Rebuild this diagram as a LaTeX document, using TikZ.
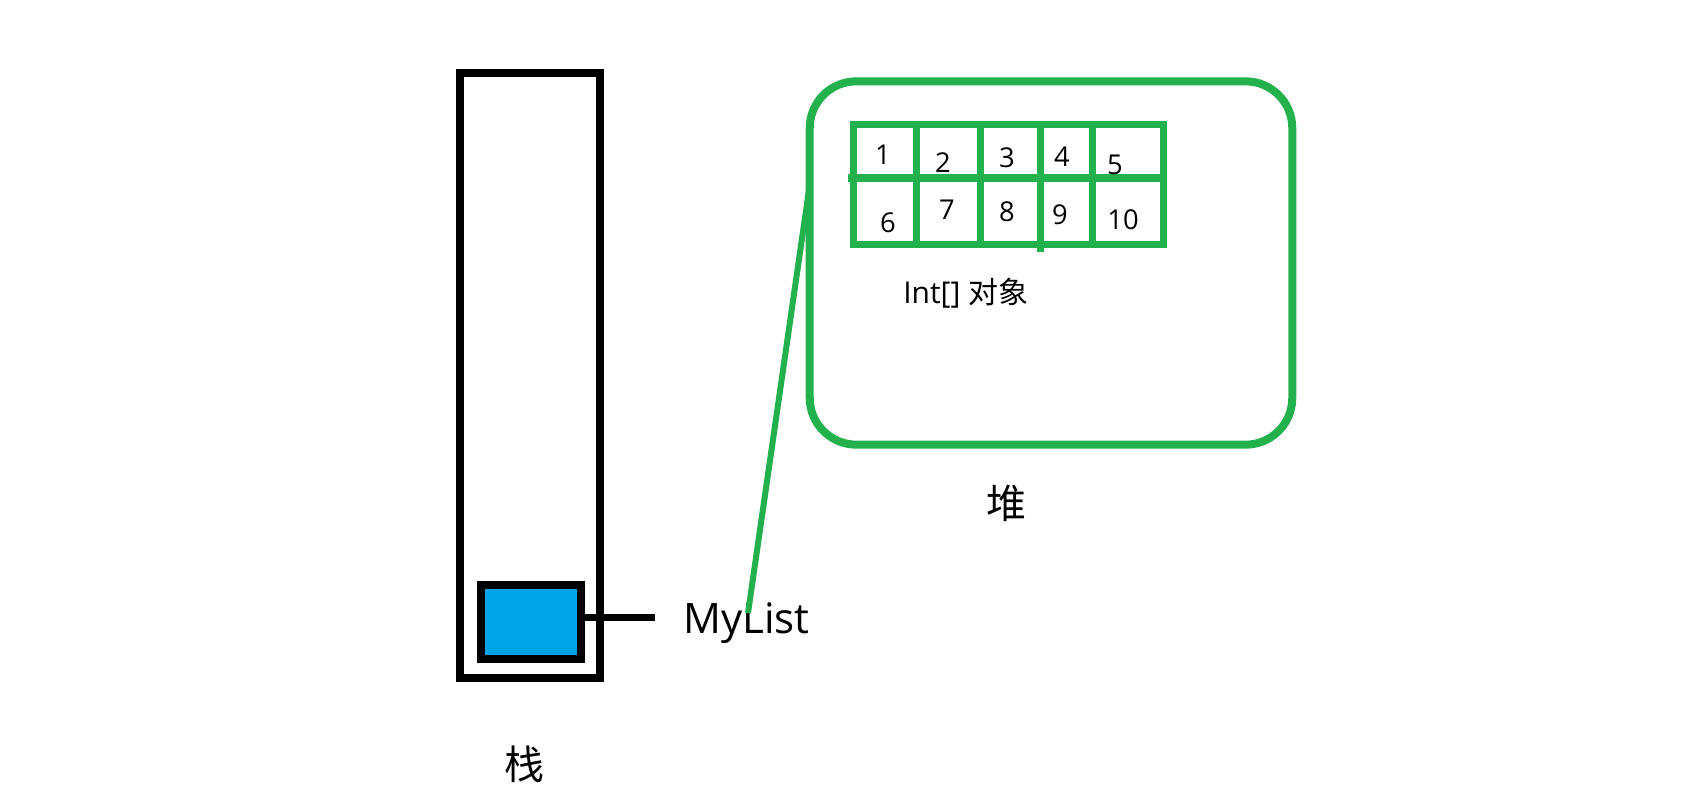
\documentclass[tikz,border=0pt]{standalone}
\usepackage{fontspec}
\setmainfont{Open Sans}
\newfontfamily\cjk{Noto Sans CJK SC}
\definecolor{pgreen}{HTML}{22B14C}
\definecolor{pblue}{HTML}{00A2E8}
\begin{document}
\begin{tikzpicture}[x=0.75pt,y=-0.75pt,
  stackbox/.style={draw=black,line width=6pt,inner sep=0pt,minimum width=105pt,minimum height=453.4pt},
  slotbox/.style={draw=black,fill=pblue,line width=6pt,inner sep=0pt,minimum width=75pt,minimum height=55.5pt},
  heapbox/.style={draw=pgreen,line width=6pt,rounded corners=35pt,inner sep=0pt,minimum width=361.9pt,minimum height=272.5pt},
  gridline/.style={draw=pgreen,line width=5.25pt},
  num/.style={font=\fontsize{20.5}{20.5}\selectfont,inner sep=0pt},
  cjklabel/.style={font=\cjk\fontsize{30}{30}\selectfont,inner sep=0pt}]
\useasboundingbox (0,0) rectangle (1687,806);
% stack
\node[stackbox] (stack) at (530,375.75) {};
\node[slotbox] (slot) at (531,622) {};
\coordinate (tick) at (655,617);
\draw[line width=5.25pt] (slot.east |- tick) -- (tick);
\node[anchor=base west,inner sep=0pt,font=\fontsize{31.5}{31.5}\selectfont] (mylist) at (683,633) {MyList};
\node[cjklabel] (stacklabel) at (524,764) {栈};
% heap
\node[heapbox] (heap) at (1051,263) {};
\node[cjklabel] (heaplabel) at (1006,503) {堆};
% int array grid
\draw[gridline] (853,125) rectangle (1163,244);
\draw[gridline] (848,178) -- (1166,178);
\draw[gridline] (916,125) -- (916,244);
\draw[gridline] (980,125) -- (980,244);
\draw[gridline] (1040,125) -- (1040,252);
\draw[gridline] (1092,125) -- (1092,244);
\node[num] (n1) at (883,155) {1};
\node[num] (n2) at (943,163) {2};
\node[num] (n3) at (1007,158) {3};
\node[num] (n4) at (1062,157) {4};
\node[num] (n5) at (1115,165) {5};
\node[num] (n6) at (888,223) {6};
\node[num] (n7) at (947,210) {7};
\node[num] (n8) at (1007,212) {8};
\node[num] (n9) at (1060,215) {9};
\node[num] (n10) at (1123,220) {10};
\node[anchor=west,inner sep=0pt,font=\fontsize{22.5}{22.5}\selectfont] (intlabel) at (903,293) {Int[] {\cjk 对象}};
% reference line
\coordinate (hs) at (810,183);
\coordinate (ml) at (748,613);
\draw[draw=pgreen,line width=4.5pt] (hs) -- (ml);
\end{tikzpicture}
\end{document}
